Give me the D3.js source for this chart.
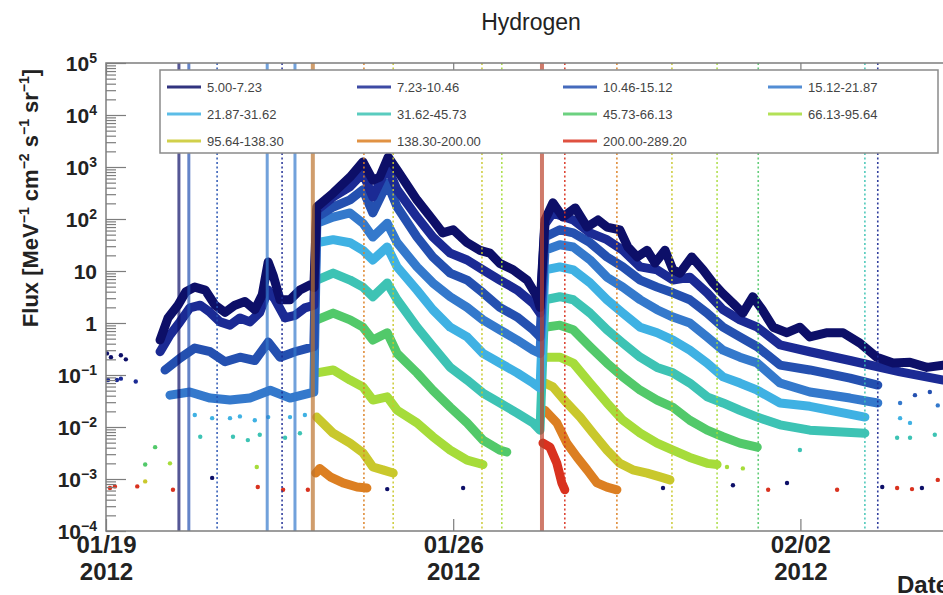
<!DOCTYPE html>
<html>
<head>
<meta charset="utf-8">
<script src="https://cdn.jsdelivr.net/npm/d3@7"></script>
<style>
  body { margin: 0; background: #fff; }
  text { font-family: "Liberation Sans", Arial, Helvetica, sans-serif; }
</style>
</head>
<body>
<svg id="chart" width="943" height="595"></svg>
<script>
// energy channels (MeV) and their colours
const channels = ["5.00-7.23", "7.23-10.46", "10.46-15.12", "15.12-21.87",
                  "21.87-31.62", "31.62-45.73", "45.73-66.13", "66.13-95.64",
                  "95.64-138.30", "138.30-200.00", "200.00-289.20"];
const colors = ["#0d0f68", "#1b2a94", "#2450b0", "#3479cc", "#3fb1e3", "#3dc3b4",
                "#52c96a", "#a6dc3a", "#c9c82c", "#dc7f22", "#d9321f"];

// [days since 2012-01-19 00:00 UT, flux]; null = gap
const ch1 = [[1.09,0.47],[1.25,1.25],[1.45,2.2],[1.61,4.0],[1.79,4.9],[2.00,4.3],[2.20,2.2],[2.40,1.6],[2.60,2.2],[2.80,2.6],[3.00,1.8],[3.15,3.5],[3.27,14.9],[3.37,8.3],[3.51,2.8],[3.71,2.8],[3.91,4.3],[4.11,5.4],[4.19,4.8],
  [4.25,170],[4.58,315],[4.92,640],[5.18,1250],[5.38,560],[5.52,640],[5.69,1550],[5.87,870],[6.27,233],[6.59,96],[6.79,54],[7.00,62],[7.28,35],[7.54,25],[7.74,22],[7.94,14],[8.21,10.5],[8.49,6.7],[8.69,3.2],[8.75,2.0],
  [8.85,96],[9.01,205],[9.21,109],[9.46,163],[9.70,70],[9.92,96],[10.10,70],[10.36,62],[10.52,29],[10.71,18.6],[10.91,25],[11.07,14.2],[11.27,25],[11.43,10.5],[11.57,9.1],[11.81,18.6],[12.04,10.5],[12.24,5.9],[12.42,3.8],[12.64,2.4],[12.84,1.55],[13.04,3.2],[13.23,1.8],[13.45,0.83],[13.73,0.65],[13.99,0.83],[14.19,0.54],[14.54,0.65],[14.86,0.65],[15.20,0.41],[15.54,0.22],[15.87,0.17],[16.21,0.175],[16.55,0.14],[16.88,0.155]];
const ch2 = [[1.09,0.28],[1.29,0.59],[1.49,1.05],[1.69,1.95],[1.90,2.2],[2.10,1.6],[2.30,1.05],[2.50,0.91],[2.70,1.25],[2.90,1.05],[3.10,1.6],[3.27,4.3],[3.41,2.8],[3.61,1.25],[3.81,1.4],[4.01,1.95],[4.19,2.2],
  [4.25,148],[4.58,265],[4.92,420],[5.18,760],[5.38,265],[5.67,1000],[5.87,365],[6.27,109],[6.59,45],[6.94,22],[7.28,16.3],[7.60,10.5],[7.94,6.7],[8.29,4.3],[8.61,2.4],[8.75,1.55],
  [8.85,80],[9.01,131],[9.42,96],[9.76,54],[10.10,40],[10.42,25],[10.77,12],[11.11,10.5],[11.43,6.7],[11.77,7.6],[12.12,3.8],[12.44,1.8],[12.78,1.15],[13.13,0.83],[13.59,0.38],[14.19,0.28],[15.00,0.19],[16.01,0.115],[16.88,0.080]];
const ch3 = [[1.19,0.125],[1.49,0.21],[1.79,0.33],[2.10,0.28],[2.40,0.18],[2.70,0.22],[3.00,0.19],[3.27,0.43],[3.51,0.22],[3.81,0.28],[4.19,0.35],
  [4.25,109],[4.58,170],[4.92,233],[5.18,365],[5.38,131],[5.67,490],[5.87,170],[6.27,45],[6.59,18.6],[6.94,9.1],[7.28,6.7],[7.60,3.8],[7.94,2.0],[8.29,1.3],[8.61,0.74],[8.75,0.54],
  [8.85,45],[9.15,62],[9.42,54],[9.76,35],[10.10,18.6],[10.42,12],[10.77,6.7],[11.11,4.9],[11.43,3.8],[11.77,2.8],[12.12,1.55],[12.44,0.83],[12.78,0.54],[13.13,0.35],[13.59,0.155],[14.19,0.125],[15.00,0.087],[15.56,0.064]];
const ch4 = [[1.29,0.041],[1.69,0.047],[2.10,0.036],[2.50,0.033],[2.90,0.036],[3.31,0.051],[3.71,0.036],[4.19,0.047],
  [4.25,83],[4.58,109],[4.92,131],[5.18,83],[5.38,45],[5.67,83],[5.87,35],[6.27,12],[6.59,5.9],[6.94,3.2],[7.28,2.0],[7.60,1.15],[7.94,0.74],[8.29,0.47],[8.61,0.30],[8.75,0.26],
  [8.85,25],[9.15,32],[9.42,29],[9.76,16.3],[10.10,7.6],[10.42,4.9],[10.77,2.8],[11.11,1.8],[11.43,1.3],[11.77,1.0],[12.12,0.54],[12.44,0.30],[12.78,0.22],[13.13,0.17],[13.59,0.070],[14.19,0.047],[15.00,0.036],[15.56,0.029]];
const ch5 = [[4.25,35],[4.58,40],[4.92,35],[5.18,25],[5.38,16.3],[5.67,29],[5.87,12],[6.27,4.3],[6.59,1.8],[6.94,0.83],[7.28,0.54],[7.60,0.26],[7.94,0.17],[8.29,0.11],[8.61,0.070],[8.75,0.056],
  [8.85,10.5],[9.15,12],[9.42,10.5],[9.76,5.9],[10.10,2.8],[10.42,1.55],[10.77,0.83],[11.11,0.65],[11.43,0.47],[11.77,0.30],[12.12,0.17],[12.44,0.092],[12.78,0.070],[13.13,0.051],[13.59,0.029],[14.19,0.025],[15.30,0.0155]];
const ch6 = [[4.25,6.7],[4.58,9.1],[4.92,6.7],[5.18,4.9],[5.38,3.2],[5.67,5.9],[5.87,2.8],[6.27,0.83],[6.59,0.35],[6.94,0.14],[7.28,0.080],[7.60,0.045],[7.94,0.029],[8.29,0.0185],[8.61,0.012],[8.75,0.0087],
  [8.85,2.8],[9.15,3.2],[9.42,2.8],[9.76,1.55],[10.10,0.74],[10.42,0.41],[10.77,0.22],[11.11,0.14],[11.43,0.11],[11.77,0.070],[12.12,0.038],[12.44,0.029],[12.78,0.021],[13.13,0.0155],[13.59,0.011],[14.19,0.0087],[15.30,0.0076]];
const ch7 = [[4.25,1.15],[4.58,1.55],[4.92,1.15],[5.18,0.83],[5.38,0.47],[5.67,0.65],[5.87,0.26],[6.27,0.11],[6.59,0.051],[6.94,0.024],[7.28,0.012],[7.60,0.0056],[7.94,0.0036],[8.08,0.0033],
  null,
  [8.85,0.83],[9.15,0.91],[9.42,0.74],[9.76,0.35],[10.10,0.17],[10.42,0.092],[10.77,0.051],[11.11,0.033],[11.43,0.024],[11.77,0.0135],[12.12,0.0087],[12.44,0.0065],[12.78,0.0049],[13.13,0.0041]];
const ch8 = [[4.25,0.11],[4.58,0.125],[4.92,0.080],[5.18,0.059],[5.38,0.033],[5.67,0.038],[5.87,0.021],[6.27,0.012],[6.59,0.0065],[6.94,0.0036],[7.28,0.0023],[7.60,0.0019],
  null,
  [8.85,0.22],[9.15,0.22],[9.42,0.17],[9.76,0.070],[10.10,0.029],[10.42,0.0135],[10.77,0.0076],[11.11,0.0049],[11.43,0.0036],[11.77,0.0026],[12.12,0.0020],[12.32,0.0019]];
const ch9 = [[4.25,0.0155],[4.58,0.0076],[4.92,0.0049],[5.18,0.0032],[5.38,0.0017],[5.58,0.0015],[5.79,0.0013],
  null,
  [8.85,0.070],[9.01,0.059],[9.29,0.029],[9.56,0.0155],[9.82,0.0076],[10.10,0.0036],[10.36,0.0020],[10.62,0.0015],[10.91,0.0013],[11.17,0.0011],[11.37,0.00096]];
const ch10 = [[4.23,0.0013],[4.31,0.0016],[4.52,0.0011],[4.78,0.00084],[5.06,0.00070],[5.26,0.00067],
  null,
  [8.85,0.021],[9.09,0.012],[9.29,0.0049],[9.50,0.0026],[9.70,0.0015],[9.90,0.00084],[10.10,0.00070],[10.30,0.00062]];
const ch11 = [[8.81,0.0049],[8.95,0.0041],[9.09,0.0020],[9.19,0.00084],[9.25,0.00062]];
const series = [ch1, ch2, ch3, ch4, ch5, ch6, ch7, ch8, ch9, ch10, ch11];

// isolated points: [day, flux, channel index]
const sparseDots = [
  [0.02,0.26,0],[0.10,0.22,0],[0.30,0.24,0],[0.40,0.20,0],
  [0.04,0.080,1],[0.22,0.080,1],[0.30,0.085,1],[0.60,0.075,1],
  [1.79,0.017,4],[2.14,0.0148,4],[2.50,0.0148,4],[2.70,0.016,4],[3.00,0.0135,4],[3.27,0.0155,4],[3.71,0.0155,4],[4.01,0.017,4],
  [1.90,0.0065,5],[2.56,0.0065,5],[2.86,0.0056,5],[3.10,0.0071,5],[3.61,0.0062,5],[3.91,0.0076,5],
  [0.79,0.0019,6],[0.99,0.0041,6],[1.29,0.0020,7],[3.04,0.0017,7],[0.79,0.00090,8],
  [0.08,0.00067,10],[0.18,0.00072,10],[0.63,0.00072,10],[1.35,0.00062,10],[2.14,0.00105,0],[3.06,0.00070,10],
  [3.57,0.00062,10],[4.07,0.00062,10],[5.67,0.00064,0],[7.20,0.00067,0],[11.23,0.00067,0],[12.64,0.00076,0],
  [13.35,0.00062,10],[13.73,0.00084,0],[14.74,0.00062,10],[15.65,0.00070,0],[15.95,0.00067,10],[16.25,0.00064,10],
  [16.45,0.00067,0],[16.77,0.00096,10],
  [12.52,0.0017,7],[12.84,0.0016,7],
  [16.01,0.029,3],[16.77,0.026,3],[16.01,0.0148,4],[16.21,0.012,4],[15.95,0.0062,5],[16.21,0.0062,5],[16.71,0.0071,5],
  [13.99,0.0036,5],[16.31,0.041,2],[16.61,0.047,2]
];

// vertical marker lines
const markerDays    = [1.47, 1.67, 2.24, 3.25, 3.55, 3.81, 4.17, 5.20, 5.79, 7.58, 7.98, 8.79, 9.25, 10.30, 11.41, 12.32, 13.15, 15.30, 15.56];
const markerChannel = [0, 2, 2, 3, 1, 3, 9, 9, 8, 8, 7, 10, 10, 9, 8, 7, 6, 5, 1];
const markerSolid   = [1, 1, 0, 1, 0, 1, 1, 0, 0, 0, 0, 1, 0, 0, 0, 0, 0, 0, 0];

const yTickExps = [-4, -3, -2, -1, 0, 1, 2, 3, 4, 5];
const xTickDates = ["2012-01-19", "2012-01-26", "2012-02-02"];

const svg = d3.select("#chart");
const pLeft = 106, pTop = 63, pBottom = 531, pRight = 974;
const t0 = Date.UTC(2012, 0, 19);
const toDate = d => new Date(t0 + d * 864e5);

const x = d3.scaleUtc().domain([toDate(0), toDate(17.5)]).range([pLeft, pRight]);
const y = d3.scaleLog().domain([1e-4, 1e5]).range([pBottom, pTop]);

svg.append("defs").append("clipPath").attr("id", "plot")
  .append("rect").attr("x", pLeft).attr("y", pTop).attr("width", pRight - pLeft).attr("height", pBottom - pTop);

const plot = svg.append("g").attr("clip-path", "url(#plot)");

// data bands
const line = d3.line()
  .defined(d => d !== null)
  .x(d => x(toDate(d[0])))
  .y(d => y(d[1]));

plot.append("g").selectAll("path")
  .data(series.map((s, i) => ({ s, i })).reverse())
  .join("path")
  .attr("d", d => line(d.s))
  .attr("fill", "none")
  .attr("stroke", d => colors[d.i])
  .attr("stroke-width", 9)
  .attr("stroke-linejoin", "round")
  .attr("stroke-linecap", "round");

plot.append("g").selectAll("circle")
  .data(sparseDots)
  .join("circle")
  .attr("cx", d => x(toDate(d[0])))
  .attr("cy", d => y(d[1]))
  .attr("r", 2.2)
  .attr("fill", d => colors[d[2]]);

// marker lines
plot.append("g").selectAll("line")
  .data(markerDays.map((d, i) => ({ d, c: markerChannel[i], solid: markerSolid[i] })))
  .join("line")
  .attr("x1", d => x(toDate(d.d))).attr("x2", d => x(toDate(d.d)))
  .attr("y1", pTop).attr("y2", pBottom)
  .attr("stroke", d => d.solid && d.c >= 9 ? d3.interpolateRgb(colors[d.c], "#806040")(0.35) : colors[d.c])
  .attr("stroke-opacity", d => d.solid ? 0.7 : 0.9)
  .attr("stroke-width", d => d.solid ? (d.c >= 9 ? 4 : 3) : 1.6)
  .attr("stroke-dasharray", d => d.solid ? null : "2,2.5");

// frame
svg.append("rect")
  .attr("x", pLeft).attr("y", pTop).attr("width", pRight - pLeft).attr("height", pBottom - pTop)
  .attr("fill", "none").attr("stroke", "#7d7d7d").attr("stroke-width", 1.5);

// y axis: major + minor ticks pointing inward
const minorVals = [];
yTickExps.slice(0, -1).forEach(e => { for (let m = 2; m <= 9; m++) minorVals.push(m * 10 ** e); });

const yMinor = svg.append("g").attr("transform", `translate(${pLeft},0)`)
  .call(d3.axisLeft(y).tickValues(minorVals).tickSizeInner(-10).tickSizeOuter(0).tickFormat(""));
const yMajor = svg.append("g").attr("transform", `translate(${pLeft},0)`)
  .call(d3.axisLeft(y).tickValues(yTickExps.map(e => 10 ** e)).tickSizeInner(-20).tickSizeOuter(0).tickFormat(""));
[yMinor, yMajor].forEach(g => {
  g.select(".domain").remove();
  g.selectAll(".tick line").attr("stroke", "#7d7d7d").attr("stroke-width", 1.2);
});

yMajor.selectAll(".tick").each(function(v) {
  const e = Math.round(Math.log10(v));
  const t = d3.select(this).append("text")
    .attr("x", -9).attr("y", 0).attr("dy", "0.36em")
    .attr("text-anchor", "end")
    .attr("fill", "#222").attr("font-size", 21).attr("font-weight", "bold");
  if (e === 0) { t.text("1"); return; }
  if (e === 1) { t.text("10"); return; }
  t.append("tspan").text("10");
  t.append("tspan").attr("dy", -8).attr("font-size", 14)
    .text(e < 0 ? "\u2212" + (-e) : String(e));
});

// x axis: bottom and top ticks
const xDates = xTickDates.map(s => new Date(s + "T00:00:00Z"));
const xBottom = svg.append("g").attr("transform", `translate(0,${pBottom})`)
  .call(d3.axisBottom(x).tickValues(xDates).tickSizeInner(-12).tickSizeOuter(0).tickFormat(""));
const xTop = svg.append("g").attr("transform", `translate(0,${pTop})`)
  .call(d3.axisTop(x).tickValues(xDates).tickSizeInner(-12).tickSizeOuter(0).tickFormat(""));
[xBottom, xTop].forEach(g => {
  g.select(".domain").remove();
  g.selectAll(".tick line").attr("stroke", "#7d7d7d").attr("stroke-width", 1.2);
});
const fmtMD = d3.utcFormat("%m/%d"), fmtY = d3.utcFormat("%Y");
xBottom.selectAll(".tick").each(function(d) {
  const g = d3.select(this);
  g.append("text").attr("y", 22).attr("text-anchor", "middle")
    .attr("fill", "#222").attr("font-size", 24).attr("font-weight", "bold").text(fmtMD(d));
  g.append("text").attr("y", 49).attr("text-anchor", "middle")
    .attr("fill", "#222").attr("font-size", 24).attr("font-weight", "bold").text(fmtY(d));
});

// legend
const legendCols = [167, 357, 563, 768];
svg.append("rect").attr("x", 160).attr("y", 70).attr("width", 778).attr("height", 83)
  .attr("fill", "#fff").attr("stroke", "#8a8a8a").attr("stroke-width", 1.5);
const li = svg.append("g").selectAll("g")
  .data(channels)
  .join("g")
  .attr("transform", (d, i) => `translate(${legendCols[i % 4]},${87 + Math.floor(i / 4) * 27})`);
li.append("line").attr("x1", 0).attr("x2", 34)
  .attr("stroke", (d, i) => colors[i]).attr("stroke-width", 3).attr("stroke-opacity", 0.85);
li.append("text").attr("x", 40).attr("dy", "0.35em")
  .attr("font-size", 13).attr("fill", "#444").text(d => d);

// titles
svg.append("text").attr("x", 531).attr("y", 30).attr("text-anchor", "middle")
  .attr("font-size", 23).attr("fill", "#222").text("Hydrogen");

const yt = svg.append("text")
  .attr("transform", "translate(38,198) rotate(-90)")
  .attr("text-anchor", "middle")
  .attr("font-size", 22).attr("font-weight", "bold").attr("fill", "#222");
const parts = [["Flux [MeV", false], ["\u22121", true], [" cm", false], ["\u22122", true],
               [" s", false], ["\u22121", true], [" sr", false], ["\u22121", true], ["]", false]];
parts.forEach(([s, sup], i) => {
  const prevSup = i > 0 && parts[i - 1][1];
  yt.append("tspan")
    .attr("dy", sup ? -9 : (prevSup ? 9 : 0))
    .attr("font-size", sup ? 14 : 22)
    .text(s);
});

svg.append("text").attr("x", 897).attr("y", 593)
  .attr("font-size", 24).attr("font-weight", "bold").attr("fill", "#222").text("Date");
</script>
</body>
</html>
